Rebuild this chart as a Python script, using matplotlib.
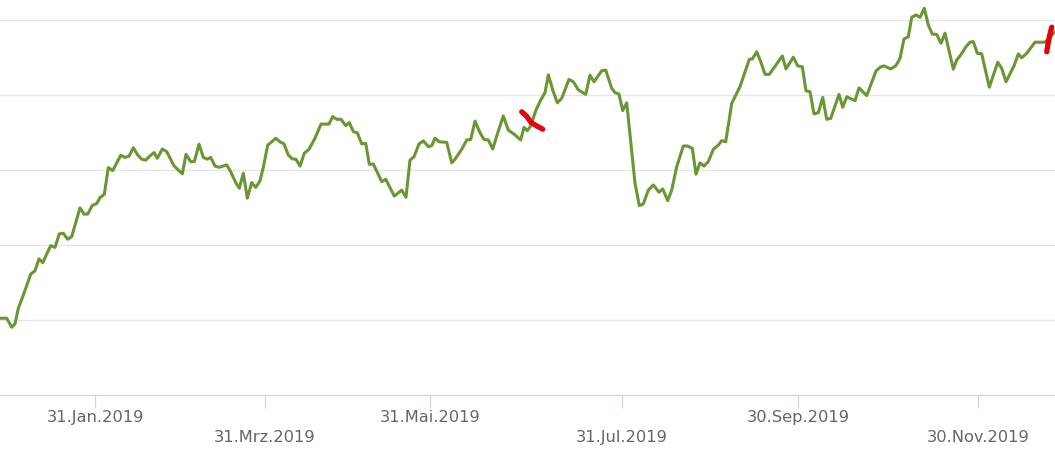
import matplotlib
matplotlib.use("Agg")
import matplotlib.pyplot as plt

# trading-session position (x) and index value (y)
session = [0, 1.68, 2.93, 3.75, 4.58, 5.83, 7.68, 8.75, 9.75, 10.68, 11.68, 12.68, 13.75, 14.83, 15.83,
           16.93, 17.93, 20.0, 21.0, 21.93, 23.08, 24.18, 25.0, 26.08, 27.08, 28.18, 30.18, 31.25, 32.25,
           33.33, 34.43, 35.43, 36.43, 37.5, 38.5, 39.33, 40.58, 41.68, 43.5, 45.58, 46.5, 47.68, 48.58,
           49.75, 50.83, 51.83, 52.68, 53.75, 54.83, 56.68, 57.68, 59.0, 59.83, 60.83, 61.83, 62.93, 63.93,
           65.0, 65.83, 66.93, 67.93, 68.93, 70.0, 71.0, 72.08, 73.08, 74.0, 75.0, 76.08, 77.25, 78.75,
           80.25, 82.25, 83.18, 84.18, 85.25, 86.43, 87.33, 88.33, 89.33, 90.43, 91.43, 92.33, 93.33, 95.43,
           96.43, 98.58, 100.43, 101.5, 102.5, 103.5, 104.75, 105.83, 107.08, 107.93, 108.75, 109.83, 111.68,
           112.93, 113.75, 115.43, 116.68, 117.68, 118.75, 120.0, 121.0, 122.08, 123.18, 124.58, 125.83,
           127.08, 128.75, 130.18, 131.0, 131.83, 132.68, 134.0, 135.18, 136.25, 137.08, 138.18, 139.33,
           140.43, 142.25, 143.33, 144.58, 146.43, 147.5, 148.5, 150.43, 151.43, 152.93, 153.75, 154.75,
           155.68, 156.68, 158.75, 159.83, 160.83, 162.08, 163.33, 164.75, 165.68, 166.93, 167.93, 169.18,
           170.83, 171.83, 173.08, 174.0, 175.0, 176.0, 177.08, 178.33, 179.58, 180.43, 181.43, 182.93,
           185.0, 187.33, 188.08, 189.18, 190.18, 191.25, 192.33, 195.58, 196.5, 198.33, 199.43, 200.58,
           201.5, 202.5, 203.5, 204.58, 205.68, 206.68, 207.68, 209.75, 210.68, 211.68, 213.75, 214.75,
           216.68, 219.0, 220.18, 221.0, 222.68, 223.93, 225.0, 226.0, 227.08, 227.93, 229.0, 230.0, 231.08,
           232.08, 233.08, 234.18, 235.25, 236.25, 238.33, 239.18, 240.0, 241.5, 242.5, 243.33, 244.33,
           245.43, 247.33, 249.43, 250.43, 251.5, 253.5, 254.58, 255.43, 256.68, 258.75, 261.25, 263.75]

value = [25.6, 25.6, 22.6, 23.7, 28.9, 33.3, 40.3, 41.4, 45.4, 44.1, 47.0, 49.8, 49.2, 53.7, 53.9,
         51.9, 52.8, 62.4, 60.3, 60.3, 63.2, 63.8, 65.8, 66.9, 75.8, 74.8, 79.9, 79.2, 79.6,
         82.4, 80.0, 78.6, 78.3, 79.7, 80.8, 78.9, 82.0, 81.1, 76.4, 73.7, 80.2, 77.8, 77.8,
         83.6, 79.2, 78.6, 79.2, 76.3, 75.9, 76.7, 74.4, 70.6, 68.9, 73.9, 65.6, 70.8, 69.2,
         71.4, 75.9, 83.3, 84.4, 85.6, 84.4, 83.7, 80.0, 78.7, 78.6, 76.3, 80.6, 81.9, 85.6,
         90.3, 90.3, 92.8, 91.9, 91.9, 89.8, 90.8, 87.8, 87.4, 83.7, 83.9, 76.9, 77.0, 71.1,
         71.9, 66.3, 68.3, 65.9, 78.3, 79.4, 83.7, 84.7, 82.8, 83.1, 85.6, 84.4, 84.2,
         77.4, 78.6, 81.9, 85.0, 85.2, 91.3, 87.4, 85.2, 85.0, 82.0, 88.0, 93.0,
         88.3, 86.7, 85.0, 89.2, 88.1, 89.7, 95.0, 98.3, 100.8, 106.7, 101.7, 97.4,
         98.9, 105.2, 104.4, 101.7, 100.2, 106.6, 104.4, 108.1, 108.3, 102.2, 100.8, 100.3,
         94.8, 97.4, 70.6, 63.1, 63.7, 68.3, 70.0, 67.6, 68.7, 64.8, 68.3, 76.1,
         83.0, 83.0, 82.2, 73.6, 77.4, 76.3, 77.8, 81.9, 83.3, 84.8, 84.4, 97.2,
         102.8, 111.9, 112.0, 114.4, 111.1, 106.9, 106.9, 113.0, 108.7, 112.6, 109.7, 109.4,
         101.4, 101.1, 93.7, 94.1, 99.2, 91.9, 92.2, 100.2, 95.9, 99.4, 98.1, 102.4,
         99.8, 108.0, 109.4, 109.7, 108.7, 109.7, 112.2, 118.7, 119.4, 125.9, 126.7, 125.9, 128.9,
         123.3, 120.3, 120.2, 117.2, 120.6, 108.6, 111.7, 113.0, 116.1, 117.6, 117.8, 113.9,
         113.7, 102.6, 110.9, 108.9, 104.4, 109.7, 113.7, 112.4, 113.9, 117.6, 117.6, 121.0]

# red hand-drawn marks (session, value)
mark1_session = [130.43, 131.6, 132.8, 134.3, 135.68]
mark1_value = [94.4, 93.0, 90.8, 89.6, 88.6]
mark2_session = [261.68, 262.0, 262.4, 262.93]
mark2_value = [114.4, 117.0, 119.8, 122.6]

row1_ticks = [23.75, 107.5, 199.5]
row1_labels = ["31.Jan.2019", "31.Mai.2019", "30.Sep.2019"]
row2_ticks = [66.25, 155.5, 244.5]
row2_labels = ["31.Mrz.2019", "31.Jul.2019", "30.Nov.2019"]
grid_values = [25, 50, 75, 100, 125]

fig = plt.figure(figsize=(10.55, 4.51), dpi=100)
ax = fig.add_axes([0, 56 / 451, 1, 395 / 451])

ax.plot(session, value, color="#6b9634", lw=2.2, solid_joinstyle="round", zorder=3)
ax.plot(mark1_session, mark1_value, color="#e8000b", lw=3.8, solid_capstyle="round", zorder=4)
ax.plot(mark2_session, mark2_value, color="#e8000b", lw=3.8, solid_capstyle="round", zorder=4)

ax.set_xlim(0, 263.75)
ax.set_ylim(0, 395 / 3)

ax.set_yticks(grid_values)
ax.yaxis.grid(True, color="#e6e6e6", lw=0.9)
ax.tick_params(axis="y", left=False, labelleft=False)

for s in ["top", "left", "right"]:
    ax.spines[s].set_visible(False)
ax.spines["bottom"].set_color("#ccd6eb")
ax.spines["bottom"].set_linewidth(0.9)

ax.set_xticks(row1_ticks)
ax.set_xticklabels(row1_labels)
ax.set_xticks(row2_ticks, minor=True)
ax.set_xticklabels(row2_labels, minor=True)
ax.tick_params(axis="x", which="major", length=9, width=0.9, color="#ccd6eb",
               labelsize=11.7, labelcolor="#666666", pad=1.5)
ax.tick_params(axis="x", which="minor", length=9, width=0.9, color="#ccd6eb",
               labelsize=11.7, labelcolor="#666666", pad=16)

fig.savefig("out.png", dpi=100)
